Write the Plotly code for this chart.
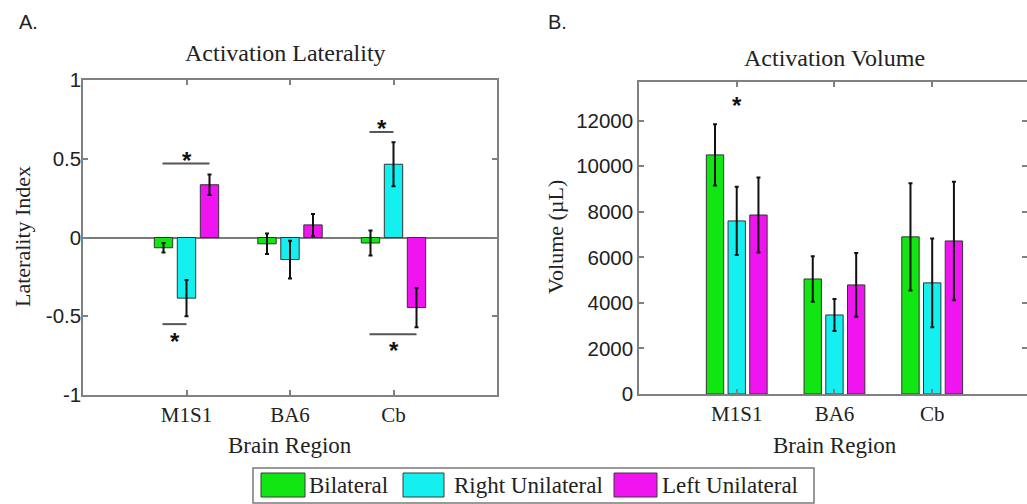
import plotly.graph_objects as go

W, H = 1027, 504

categories = ["M1S1", "BA6", "Cb"]
series_names = ["Bilateral", "Right Unilateral", "Left Unilateral"]
series_colors = ["#12e612", "#14f0f0", "#f014f0"]

# Panel A: Activation Laterality
lat_bilateral = [-0.065, -0.04, -0.035]
lat_right = [-0.385, -0.14, 0.465]
lat_left = [0.335, 0.08, -0.445]
lat_err_bilateral = [0.03, 0.065, 0.08]
lat_err_right = [0.115, 0.12, 0.14]
lat_err_left = [0.065, 0.07, 0.125]

# Panel B: Activation Volume (uL)
vol_bilateral = [10500, 5050, 6900]
vol_right = [7600, 3470, 4880]
vol_left = [7860, 4790, 6720]
vol_err_bilateral = [1350, 1000, 2350]
vol_err_right = [1500, 700, 1950]
vol_err_left = [1650, 1400, 2600]

lat_ticks = [-1, -0.5, 0, 0.5, 1]
lat_ticktext = ["-1", "-0.5", "0", "0.5", "1"]
vol_ticks = [0, 2000, 4000, 6000, 8000, 10000, 12000]
vol_ticktext = ["0", "2000", "4000", "6000", "8000", "10000", "12000"]

# significance markers (panel A): category, from-series, to-series, line y, star y
sigA_cat = ["M1S1", "M1S1", "Cb", "Cb"]
sigA_from = [0, 0, 0, 0]
sigA_to = [2, 1, 1, 2]
sigA_line = [0.47, -0.55, 0.67, -0.615]
sigA_star = [0.53, -0.62, 0.73, -0.68]
# significance marker (panel B)
sigB_cat = ["M1S1"]
sigB_star = [12950]

SERIF = "Liberation Serif, Times New Roman, serif"
SANS = "Liberation Sans, Arial, sans-serif"
TXT = "#222222"
AX = "#808080"

def px(x):
    return x / W

def py(y):
    return 1 - y / H

xpos = [1, 2, 3]
GROUP_OFF = 0.2222  # offset of each series within a group (grouped-bar geometry)

fig = go.Figure()

lat_vals = [lat_bilateral, lat_right, lat_left]
lat_errs = [lat_err_bilateral, lat_err_right, lat_err_left]
vol_vals = [vol_bilateral, vol_right, vol_left]
vol_errs = [vol_err_bilateral, vol_err_right, vol_err_left]

for i in range(3):
    fig.add_trace(go.Bar(
        x=xpos, y=lat_vals[i], name=series_names[i],
        marker=dict(color=series_colors[i], line=dict(color="#333333", width=1)),
        error_y=dict(type="data", array=lat_errs[i], color="#111111", thickness=2, width=2),
        xaxis="x", yaxis="y", showlegend=False,
    ))
for i in range(3):
    fig.add_trace(go.Bar(
        x=xpos, y=vol_vals[i], name=series_names[i],
        marker=dict(color=series_colors[i], line=dict(color="#333333", width=1)),
        error_y=dict(type="data", array=vol_errs[i], color="#111111", thickness=2, width=2),
        xaxis="x2", yaxis="y2", showlegend=False,
    ))

common_x = dict(
    tickvals=xpos, ticktext=categories, ticks="inside", ticklen=5, tickwidth=1.5,
    tickcolor=AX, showline=True, linecolor=AX, linewidth=1.5, mirror="ticks",
    showgrid=False, zeroline=False, automargin=False,
    tickfont=dict(family=SERIF, size=21, color=TXT),
)
common_y = dict(
    ticks="inside", ticklen=5, tickwidth=1.5, tickcolor=AX, showline=True,
    linecolor=AX, linewidth=1.5, mirror="ticks", showgrid=False, automargin=False,
    tickfont=dict(family=SANS, size=20.5, color=TXT),
)

fig.update_layout(
    template="none",
    width=W, height=H, margin=dict(l=0, r=0, t=0, b=0, pad=0), autosize=False,
    paper_bgcolor="white", plot_bgcolor="white",
    barmode="group", bargap=0.3333, bargroupgap=0.2,
    showlegend=False,
    xaxis=dict(domain=[px(83), px(497)], range=[0, 4], anchor="y", **common_x),
    yaxis=dict(domain=[py(395), py(80)], range=[-1, 1], anchor="x",
               tickvals=lat_ticks, ticktext=lat_ticktext, ticklabelstandoff=-4,
               zeroline=True, zerolinecolor="#7a7a7a", zerolinewidth=1.5, **common_y),
    xaxis2=dict(domain=[px(639), 1.0], range=[0, 3.97], anchor="y2", **common_x),
    yaxis2=dict(domain=[py(394), py(82)], range=[0, 13700], anchor="x2",
                tickvals=vol_ticks, ticktext=vol_ticktext, zeroline=False, **common_y),
)

ann = []
shapes = []

def label(text, x, y, font, **kw):
    d = dict(text=text, x=px(x), y=py(y), xref="paper", yref="paper",
             xanchor="center", yanchor="middle", showarrow=False, font=font)
    d.update(kw)
    ann.append(d)

f_sans = dict(family=SANS, size=20, color=TXT)
f_title = dict(family=SERIF, size=24, color=TXT)
f_axt = dict(family=SERIF, size=23, color=TXT)
f_axv = dict(family=SERIF, size=22, color=TXT)

# panel labels and titles
label("A.", 28, 22, f_sans)
label("B.", 557, 22, f_sans)
label("Activation Laterality", 285, 53, f_title)
label("Activation Volume", 834, 58, f_title)
# axis titles
label("Laterality Index", 22, 237, f_axv, textangle=-90)
label("Volume (µL)", 555, 237, f_axv, textangle=-90)
label("Brain Region", 290, 445, f_axt)
label("Brain Region", 835, 445, f_axt)

# significance markers
def series_x(cat, s):
    return xpos[categories.index(cat)] + (s - 1) * GROUP_OFF

f_star = dict(family=SANS, size=24, color="#111111")
for c, a, b, ly, sy in zip(sigA_cat, sigA_from, sigA_to, sigA_line, sigA_star):
    x0, x1 = series_x(c, a), series_x(c, b)
    shapes.append(dict(type="line", xref="x", yref="y", x0=x0 - 0.01, x1=x1, y0=ly, y1=ly,
                       line=dict(color="#555555", width=2)))
    ann.append(dict(text="<b>*</b>", x=(x0 + x1) / 2, y=sy, xref="x", yref="y", showarrow=False,
                    xanchor="center", yanchor="middle", yshift=-6, font=f_star))
for c, sy in zip(sigB_cat, sigB_star):
    ann.append(dict(text="<b>*</b>", x=xpos[categories.index(c)], y=sy, xref="x2", yref="y2",
                    showarrow=False, xanchor="center", yanchor="middle", yshift=-6, font=f_star))

# legend (drawn manually)
shapes.append(dict(type="rect", xref="paper", yref="paper", x0=px(253), x1=px(814),
                   y0=py(503), y1=py(468), line=dict(color="#7a7a7a", width=1.5),
                   fillcolor="white", layer="below"))
sw_x0 = [261, 403, 614]
sw_x1 = [305, 444, 657]
lab_x = [307, 452, 660]
f_leg = dict(family=SERIF, size=23, color=TXT)
for i in range(3):
    shapes.append(dict(type="rect", xref="paper", yref="paper", x0=px(sw_x0[i]), x1=px(sw_x1[i]),
                       y0=py(497), y1=py(473), fillcolor=series_colors[i],
                       line=dict(color="#3a3a3a", width=1)))
    label(series_names[i], lab_x[i], 485, f_leg, xanchor="left")

fig.update_layout(annotations=ann, shapes=shapes)
fig.write_html("out.html")
